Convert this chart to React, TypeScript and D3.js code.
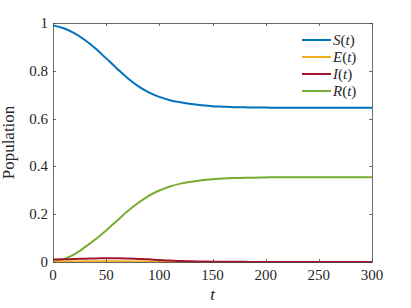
import * as d3 from 'd3';
import React, { useEffect, useRef } from 'react';

// time samples and model compartments
const tValues = [0, 10, 20, 30, 40, 50, 60, 70, 80, 90, 100, 110, 120, 130, 140, 150, 160, 170, 180, 190, 200, 210, 220, 230, 240, 250, 260, 270, 280, 290, 300];
const sValues = [0.990, 0.978, 0.958, 0.929, 0.893, 0.852, 0.810, 0.770, 0.736, 0.710, 0.691, 0.677, 0.668, 0.661, 0.656, 0.652, 0.650, 0.648, 0.647, 0.646, 0.646, 0.645, 0.645, 0.645, 0.645, 0.645, 0.645, 0.645, 0.645, 0.645, 0.645];
const eValues = [0.000, 0.002, 0.002, 0.003, 0.003, 0.003, 0.003, 0.003, 0.002, 0.002, 0.002, 0.001, 0.001, 0.001, 0.000, 0.000, 0.000, 0.000, 0.000, 0.000, 0.000, 0.000, 0.000, 0.000, 0.000, 0.000, 0.000, 0.000, 0.000, 0.000, 0.000];
const iValues = [0.010, 0.011, 0.013, 0.014, 0.015, 0.016, 0.016, 0.015, 0.013, 0.011, 0.008, 0.006, 0.004, 0.003, 0.002, 0.001, 0.001, 0.001, 0.001, 0.000, 0.000, 0.000, 0.000, 0.000, 0.000, 0.000, 0.000, 0.000, 0.000, 0.000, 0.000];
const rValues = [0.000, 0.012, 0.032, 0.062, 0.095, 0.132, 0.172, 0.212, 0.247, 0.277, 0.299, 0.316, 0.328, 0.336, 0.342, 0.346, 0.349, 0.351, 0.352, 0.353, 0.354, 0.355, 0.355, 0.355, 0.355, 0.355, 0.355, 0.355, 0.355, 0.355, 0.355];

const seriesNames = ['S', 'E', 'I', 'R'];
const seriesColors = ['#0072BD', '#EDB120', '#A2142F', '#77AC30'];
const xTicks = [0, 50, 100, 150, 200, 250, 300];
const yTicks = [0, 0.2, 0.4, 0.6, 0.8, 1];

const FONT = 'Liberation Serif, DejaVu Serif, Times New Roman, serif';

const App = () => {
    const ref = useRef(null);
    const W = 411;
    const H = 308;
    const margin = { top: 23, right: 39, bottom: 46, left: 53 };
    const width = W - margin.left - margin.right;
    const height = H - margin.top - margin.bottom;

    useEffect(() => {
        const root = d3.select(ref.current);
        root.selectAll('*').remove();
        const svg = root.append('svg')
            .attr('width', W)
            .attr('height', H)
            .style('position', 'absolute')
            .style('left', 0)
            .style('top', 0)
            .style('background', '#fff')
            .style('font-family', FONT);

        const g = svg.append('g').attr('transform', `translate(${margin.left},${margin.top})`);

        const x = d3.scaleLinear().domain([0, 300]).range([0, width]);
        const y = d3.scaleLinear().domain([0, 1]).range([height, 0]);

        const series = [sValues, eValues, iValues, rValues];
        const line = d3.line<number>()
            .curve(d3.curveMonotoneX)
            .x((d, i) => x(tValues[i]))
            .y(d => y(d));

        [0, 3, 1, 2].forEach(k => {
            g.append('path')
                .datum(series[k])
                .attr('fill', 'none')
                .attr('stroke', seriesColors[k])
                .attr('stroke-width', 2)
                .attr('d', line);
        });

        const axisColor = '#4a4a4a';
        const tickLen = 3;

        // box
        g.append('rect')
            .attr('x', 0.5).attr('y', 0.5)
            .attr('width', width).attr('height', height)
            .attr('fill', 'none')
            .attr('stroke', axisColor)
            .attr('stroke-width', 0.8);

        // ticks on all four sides
        xTicks.forEach(t => {
            const px = Math.round(x(t)) + 0.5;
            g.append('line').attr('x1', px).attr('x2', px).attr('y1', height).attr('y2', height - tickLen).attr('stroke', axisColor).attr('stroke-width', 0.8);
            g.append('line').attr('x1', px).attr('x2', px).attr('y1', 0).attr('y2', tickLen).attr('stroke', axisColor).attr('stroke-width', 0.8);
            g.append('text')
                .attr('x', x(t))
                .attr('y', height + 18)
                .attr('text-anchor', 'middle')
                .style('font-family', FONT)
                .attr('font-size', 15)
                .attr('fill', '#262626')
                .text(String(t));
        });
        yTicks.forEach(t => {
            const py = Math.round(y(t)) + 0.5;
            g.append('line').attr('x1', 0).attr('x2', tickLen).attr('y1', py).attr('y2', py).attr('stroke', axisColor).attr('stroke-width', 0.8);
            g.append('line').attr('x1', width).attr('x2', width - tickLen).attr('y1', py).attr('y2', py).attr('stroke', axisColor).attr('stroke-width', 0.8);
            g.append('text')
                .attr('x', -5)
                .attr('y', y(t))
                .attr('dy', '0.33em')
                .attr('text-anchor', 'end')
                .style('font-family', FONT)
                .attr('font-size', 15)
                .attr('fill', '#262626')
                .text(t === 0 || t === 1 ? String(t) : t.toFixed(1));
        });

        // axis labels
        g.append('text')
            .attr('x', width / 2)
            .attr('y', height + 38)
            .attr('text-anchor', 'middle')
            .style('font-family', FONT)
            .attr('font-style', 'italic')
            .attr('font-size', 17)
            .attr('fill', '#262626')
            .text('t');

        g.append('text')
            .attr('transform', `translate(${-39},${height / 2}) rotate(-90)`)
            .attr('text-anchor', 'middle')
            .style('font-family', FONT)
            .attr('font-size', 17)
            .attr('fill', '#262626')
            .text('Population');

        // legend
        const legend = svg.append('g').attr('transform', 'translate(302,40)');
        seriesNames.forEach((name, i) => {
            const row = legend.append('g').attr('transform', `translate(0,${i * 17})`);
            row.append('line')
                .attr('x1', 0).attr('x2', 29)
                .attr('y1', 0).attr('y2', 0)
                .attr('stroke', seriesColors[i])
                .attr('stroke-width', 2);
            const txt = row.append('text')
                .attr('x', 31)
                .attr('y', 0)
                .attr('dy', '0.33em')
                .style('font-family', FONT)
                .attr('font-size', 15)
                .attr('fill', '#262626');
            txt.append('tspan').attr('font-style', 'italic').text(name);
            txt.append('tspan').text('(');
            txt.append('tspan').attr('font-style', 'italic').text('t');
            txt.append('tspan').text(')');
        });
    }, []);

    return <div ref={ref} />;
};

export default App;
